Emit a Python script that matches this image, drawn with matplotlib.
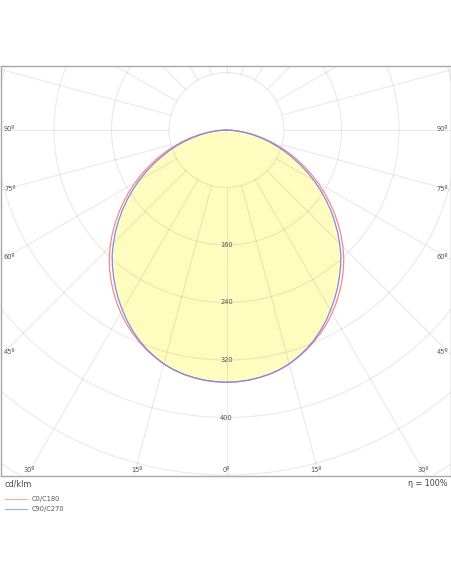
import numpy as np
import matplotlib
matplotlib.use("Agg")
import matplotlib.pyplot as plt
from matplotlib.patches import Circle

# ---- data (cd/klm), gamma angles 0..90 deg in 2.5 deg steps ----
gamma = [0, 2.5, 5, 7.5, 10, 12.5, 15, 17.5, 20, 22.5, 25, 27.5, 30, 32.5, 35, 37.5,
         40, 42.5, 45, 47.5, 50, 52.5, 55, 57.5, 60, 62.5, 65, 67.5, 70, 72.5, 75,
         77.5, 80, 82.5, 85, 87.5, 90]
c0_c180 = [351, 350.5, 349.5, 347.5, 345, 341.5, 337, 331.5, 325.5, 318.5, 311, 303,
           294, 284.5, 274.5, 264, 253, 241.5, 229, 216, 202.5, 189, 175, 161,
           147, 133, 119, 105, 91.5, 78, 65, 52, 39.5, 27.5, 16, 6.5, 0]
c90_c270 = [351, 350.5, 349.5, 347.5, 345, 341.5, 337, 331, 324.5, 317, 308.5, 299.5,
            289.5, 279.5, 269, 258, 247, 235.5, 222.5, 209.5, 196, 182.5, 168.5, 154.5,
            140.5, 126.5, 112.5, 98.5, 85.5, 72.5, 60, 47.5, 36, 25, 14.5, 5.9, 0]
ring_values = [80, 160, 240, 320, 400, 480, 560, 640]
ring_labels = [160, 240, 320, 400]
side_angle_labels = [90, 75, 60, 45]
bottom_angle_labels = [30, 15, 0, 15, 30]
bottom_angle_signed = [-30, -15, 0, 15, 30]
series_names = ["C0/C180", "C90/C270"]
unit_label = "cd/klm"
eff_label = "η = 100%"

W, H = 452, 584
fig = plt.figure(figsize=(W / 100, H / 100), dpi=100)

# axes frame in pixels
L, R, T, B = 1, 451, 66, 476
ax = fig.add_axes([L / W, (H - B) / H, (R - L) / W, (B - T) / H])
cx, cy = 226.5, 130.0
scale = 57.5 / 80.0  # px per cd/klm
ax.set_xlim((L - cx) / scale, (R - cx) / scale)
ax.set_ylim(-(B - cy) / scale, (cy - T) / scale)
ax.set_xticks([])
ax.set_yticks([])
for s in ax.spines.values():
    s.set_color("#a8a8a8")
    s.set_linewidth(1.0)


def curve(vals):
    g = np.radians(np.array(gamma, dtype=float))
    v = np.array(vals, dtype=float)
    xr = v * np.sin(g)
    yr = -v * np.cos(g)
    x = np.concatenate([-xr[::-1], xr[1:]])
    y = np.concatenate([yr[::-1], yr[1:]])
    return x, y

xb, yb = curve(c90_c270)
xr_, yr_ = curve(c0_c180)

ax.fill(xb, yb, color="#fffcc0", zorder=1, lw=0)

grid_kw = dict(color="black", alpha=0.085, lw=0.8, zorder=2)
for rv in ring_values:
    ax.add_patch(Circle((0, 0), rv, fill=False, ec="black", alpha=0.085, lw=0.8, zorder=2))
for a in range(0, 360, 15):
    t = np.radians(a)
    r0, r1 = ring_values[0], 1000
    ax.plot([r0 * np.sin(t), r1 * np.sin(t)], [-r0 * np.cos(t), -r1 * np.cos(t)], **grid_kw)

ax.plot(xr_, yr_, color="#f58a80", lw=0.9, zorder=3, solid_joinstyle="round")
ax.plot(xb, yb, color="#8585ee", lw=0.9, zorder=4, solid_joinstyle="round")

tc = "#555555"
for rv in ring_labels:
    ax.text(0, -rv, str(rv), ha="center", va="center", fontsize=4.8, color=tc, zorder=5)

half_w = (cx - L) / scale
for a in side_angle_labels:
    t = np.radians(a)
    if a == 90:
        yy = 0
    else:
        yy = -half_w / np.tan(t)
    yy += 5 if a < 70 else 2
    ax.text((L + 3 - cx) / scale, yy, f"{a}º", ha="left", va="center", fontsize=4.8, color=tc)
    ax.text((R - 3 - cx) / scale, yy, f"{a}º", ha="right", va="center", fontsize=4.8, color=tc)

depth = (B - cy) / scale
for a, lab in zip(bottom_angle_signed, bottom_angle_labels):
    xx = depth * np.tan(np.radians(a))
    xx += 4 * np.sign(-a)
    ax.text(xx, -depth + 8, f"{lab}º", ha="center", va="center", fontsize=4.8, color=tc)

fig.text(5 / W, 1 - 484 / H, unit_label, ha="left", va="center", fontsize=5.8, color="#444444")
fig.text(448 / W, 1 - 484 / H, eff_label, ha="right", va="center", fontsize=5.8, color="#444444")

legend_colors = ["#f58a80", "#8585ee"]
for i, (nm, col) in enumerate(zip(series_names, legend_colors)):
    yp = 1 - (499 + 10 * i) / H
    fig.add_artist(plt.Line2D([5 / W, 27 / W], [yp, yp], color=col, lw=0.8, alpha=0.7))
    fig.text(32 / W, yp, nm, ha="left", va="center", fontsize=4.8, color=tc)

fig.savefig("out.png", dpi=100)
